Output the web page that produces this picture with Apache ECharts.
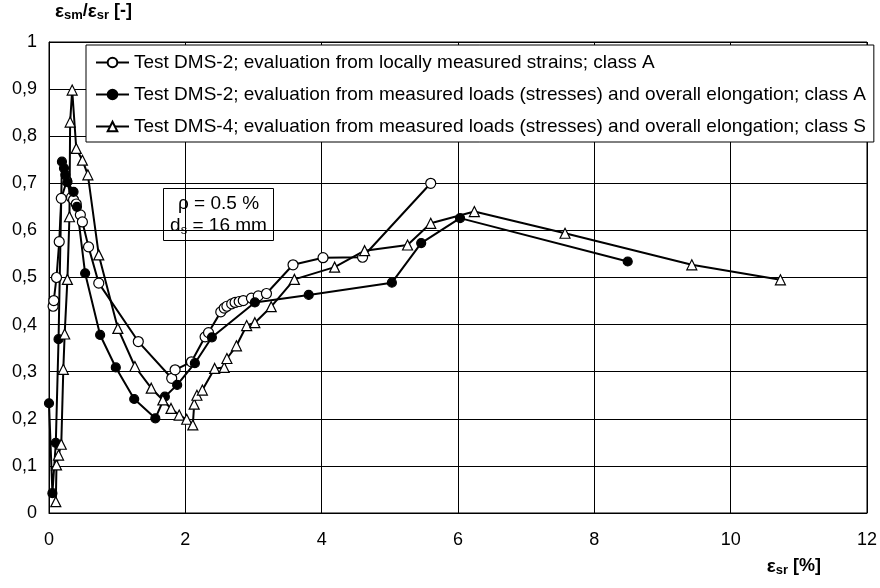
<!DOCTYPE html>
<html>
<head>
<meta charset="utf-8">
<script src="https://cdn.jsdelivr.net/npm/echarts@6/dist/echarts.min.js"></script>
<style>
  html, body { margin: 0; padding: 0; background: #fff; }
  #chart { width: 880px; height: 588px; }
</style>
</head>
<body>
<div id="chart"></div>
<script>
// DMS-2, evaluation from locally measured strains (open circles)
const dms2Local = [
  [0.06, 0.439], [0.07, 0.451], [0.11, 0.500], [0.15, 0.576], [0.18, 0.668],
  [0.26, 0.705], [0.33, 0.670], [0.36, 0.665], [0.40, 0.656], [0.46, 0.633],
  [0.49, 0.618], [0.58, 0.565], [0.73, 0.488], [1.31, 0.364], [1.80, 0.286],
  [1.85, 0.304], [2.09, 0.321], [2.29, 0.374], [2.34, 0.383], [2.52, 0.427],
  [2.57, 0.435], [2.61, 0.439], [2.68, 0.444], [2.73, 0.447], [2.79, 0.449],
  [2.85, 0.451], [2.97, 0.456], [3.07, 0.461], [3.19, 0.466], [3.58, 0.527],
  [4.02, 0.542], [4.60, 0.543], [5.60, 0.700]
];

// DMS-2, evaluation from measured loads and overall elongation (filled circles)
const dms2Loads = [
  [0.00, 0.233], [0.05, 0.042], [0.10, 0.149], [0.14, 0.369], [0.19, 0.746],
  [0.22, 0.732], [0.24, 0.718], [0.27, 0.703], [0.36, 0.682], [0.41, 0.650],
  [0.53, 0.509], [0.75, 0.378], [0.98, 0.309], [1.25, 0.242], [1.56, 0.201],
  [1.70, 0.247], [1.88, 0.272], [2.14, 0.318], [2.39, 0.373], [3.02, 0.447],
  [3.81, 0.463], [5.03, 0.489], [5.46, 0.573], [6.03, 0.626], [8.49, 0.534]
];

// DMS-4, evaluation from measured loads and overall elongation (triangles)
const dms4Loads = [
  [0.10, 0.024], [0.11, 0.102], [0.14, 0.123], [0.18, 0.146], [0.21, 0.305],
  [0.23, 0.380], [0.27, 0.496], [0.30, 0.629], [0.31, 0.830], [0.34, 0.898],
  [0.40, 0.774], [0.49, 0.749], [0.57, 0.718], [0.73, 0.548], [1.01, 0.392],
  [1.26, 0.311], [1.50, 0.265], [1.67, 0.240], [1.79, 0.222], [1.91, 0.208],
  [2.02, 0.199], [2.11, 0.187], [2.13, 0.231], [2.17, 0.250], [2.25, 0.261],
  [2.43, 0.307], [2.57, 0.309], [2.61, 0.328], [2.75, 0.355], [2.90, 0.398],
  [3.02, 0.404], [3.26, 0.438], [3.60, 0.496], [4.19, 0.522], [4.63, 0.557],
  [5.26, 0.569], [5.60, 0.615], [6.24, 0.640], [7.57, 0.594], [9.43, 0.527],
  [10.73, 0.495]
];

const seriesNames = [
  'Test DMS-2; evaluation from locally measured strains; class A',
  'Test DMS-2; evaluation from measured loads (stresses) and overall elongation; class A',
  'Test DMS-4; evaluation from measured loads (stresses) and overall elongation; class S'
];

const font = '"Liberation Sans", Arial, sans-serif';

const chart = echarts.init(document.getElementById('chart'), null, { renderer: 'canvas' });

const makeSeries = (name, data, symbol, fill, size) => ({
  name,
  type: 'line',
  data,
  symbol,
  symbolSize: size,
  showAllSymbol: true,
  animation: false,
  lineStyle: { color: '#000', width: 2 },
  itemStyle: { color: fill, borderColor: '#000', borderWidth: 1.2 },
  emphasis: { disabled: true }
});

// rich styles for the bold axis titles with subscripts
const nameRich = {
  e: { fontFamily: font, fontSize: 19, fontWeight: 'bold', color: '#000' },
  sub: { fontFamily: font, fontSize: 13, fontWeight: 'bold', color: '#000', padding: [8, 0, 0, 0] },
  b: { fontFamily: font, fontSize: 18, fontWeight: 'bold', color: '#000' }
};

const option = {
  animation: false,
  textStyle: { fontFamily: font },
  grid: { left: 49, right: 11.5, top: 42, bottom: 75, show: true, borderColor: '#000', borderWidth: 1 },
  legend: {
    orient: 'vertical',
    left: 86,
    top: 45,
    padding: [8, 8, 6, 9],
    itemWidth: 33,
    itemHeight: 12,
    itemGap: 13,
    backgroundColor: '#fff',
    borderColor: '#000',
    borderWidth: 1,
    textStyle: { fontFamily: font, fontSize: 19, color: '#000', lineHeight: 18 },
    data: seriesNames
  },
  xAxis: {
    type: 'value',
    min: 0,
    max: 12,
    interval: 2,
    name: '{e|ε}{sub|sr}{b| [%]}',
    nameLocation: 'end',
    nameGap: -46,
    nameTextStyle: {
      align: 'right',
      verticalAlign: 'top',
      padding: [43, 0, 0, 0],
      rich: nameRich
    },
    axisLine: { show: true, lineStyle: { color: '#000', width: 1 } },
    axisTick: { show: false },
    axisLabel: { fontFamily: font, fontSize: 18, color: '#000', margin: 18 },
    splitLine: { show: true, lineStyle: { color: '#000', width: 1 } }
  },
  yAxis: {
    type: 'value',
    min: 0,
    max: 1,
    interval: 0.1,
    name: '{e|ε}{sub|sm}{b|/}{e|ε}{sub|sr}{b| [-]}',
    nameLocation: 'end',
    nameGap: 20,
    nameTextStyle: {
      align: 'left',
      padding: [0, 0, 0, 6],
      rich: nameRich
    },
    axisLine: { show: true, lineStyle: { color: '#000', width: 1 } },
    axisTick: { show: false },
    axisLabel: {
      fontFamily: font,
      fontSize: 18,
      color: '#000',
      margin: 12,
      formatter: v => String(Math.round(v * 10) / 10).replace('.', ',')
    },
    splitLine: { show: true, lineStyle: { color: '#000', width: 1 } }
  },
  graphic: [
    {
      type: 'group',
      left: 163,
      top: 188,
      z: 100,
      children: [
        {
          type: 'rect',
          shape: { x: 0, y: 0, width: 110, height: 52 },
          style: { fill: '#fff', stroke: '#000', lineWidth: 1 }
        },
        {
          type: 'text',
          x: 55,
          y: 6,
          style: {
            text: 'ρ = 0.5 %',
            font: '19px "Liberation Sans", Arial, sans-serif',
            fill: '#000',
            align: 'center'
          }
        },
        {
          type: 'text',
          x: 55,
          y: 27,
          style: {
            text: '{a|d}{s|s}{a| = 16 mm}',
            align: 'center',
            rich: {
              a: { fontFamily: font, fontSize: 19, color: '#000' },
              s: { fontFamily: font, fontSize: 13, color: '#000', padding: [8, 0, 0, 0] }
            }
          }
        }
      ]
    }
  ],
  series: [
    makeSeries(seriesNames[0], dms2Local, 'circle', '#fff', 10),
    makeSeries(seriesNames[1], dms2Loads, 'circle', '#000', 9),
    makeSeries(seriesNames[2], dms4Loads, 'triangle', '#fff', 10)
  ]
};

chart.setOption(option);
</script>
</body>
</html>
